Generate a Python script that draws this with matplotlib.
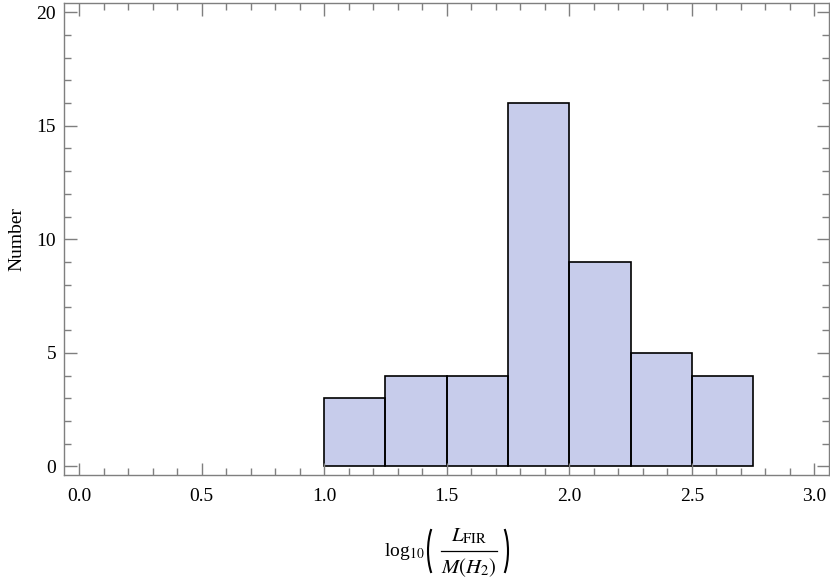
import matplotlib
matplotlib.use('Agg')
import matplotlib.pyplot as plt
import numpy as np
from matplotlib.ticker import MultipleLocator, FormatStrFormatter
from matplotlib.patches import Arc
from matplotlib.lines import Line2D

plt.rcParams['font.family'] = ['Liberation Serif', 'DejaVu Serif']
plt.rcParams['mathtext.fontset'] = 'stix'

# histogram data
bin_edges = [1.0, 1.25, 1.5, 1.75, 2.0, 2.25, 2.5, 2.75]
counts = [3, 4, 4, 16, 9, 5, 4]

W, H = 830, 581
fig = plt.figure(figsize=(W / 100, H / 100), dpi=100)
ax = fig.add_axes([0.0777, 0.1816, 0.9211, 0.8132])

ax.stairs(counts, bin_edges, fill=True, facecolor='#c7cceb', edgecolor='none')
ax.bar(bin_edges[:-1], counts, width=np.diff(bin_edges), align='edge',
       facecolor='none', edgecolor='black', linewidth=1.2)

ax.set_xlim(-0.06, 3.06)
ax.set_ylim(-0.4, 20.4)

ax.xaxis.set_major_locator(MultipleLocator(0.5))
ax.xaxis.set_minor_locator(MultipleLocator(0.1))
ax.yaxis.set_major_locator(MultipleLocator(5))
ax.yaxis.set_minor_locator(MultipleLocator(1))
ax.xaxis.set_major_formatter(FormatStrFormatter('%.1f'))

grey = '#7f7f7f'
for s in ax.spines.values():
    s.set_color(grey)
    s.set_linewidth(1.0)
ax.tick_params(which='both', direction='in', top=True, right=True,
               color=grey, labelsize=14, width=1.0)
ax.tick_params(which='major', length=9)
ax.tick_params(which='minor', length=5)
ax.tick_params(axis='x', pad=9)
ax.tick_params(axis='y', pad=6)

ax.set_ylabel('Number', fontsize=14, labelpad=8)

# x label built by hand: log10( L_FIR / M(H2) ), positions in pixels from top
def fx(x):
    return x / W

def fy(y):
    return 1 - y / H

fig.text(fx(425), fy(556), r'log$_{10}$', fontsize=14, ha='right', va='baseline')
fig.text(fx(469), fy(541), r'$L_{\mathrm{FIR}}$', fontsize=15, ha='center', va='baseline')
fig.text(fx(469), fy(573), r'$M(H_2)$', fontsize=15, ha='center', va='baseline')
fig.add_artist(Line2D([fx(441), fx(497)], [fy(551), fy(551)],
                      transform=fig.transFigure, color='black', lw=0.9))
tr = fig.dpi_scale_trans
fig.add_artist(Arc((443 / 100, (H - 551) / 100), 0.30, 0.70, theta1=118, theta2=242,
                   transform=tr, color='black', lw=1.5))
fig.add_artist(Arc((493 / 100, (H - 551) / 100), 0.30, 0.70, theta1=-62, theta2=62,
                   transform=tr, color='black', lw=1.5))

fig.savefig('out.png', dpi=100)
